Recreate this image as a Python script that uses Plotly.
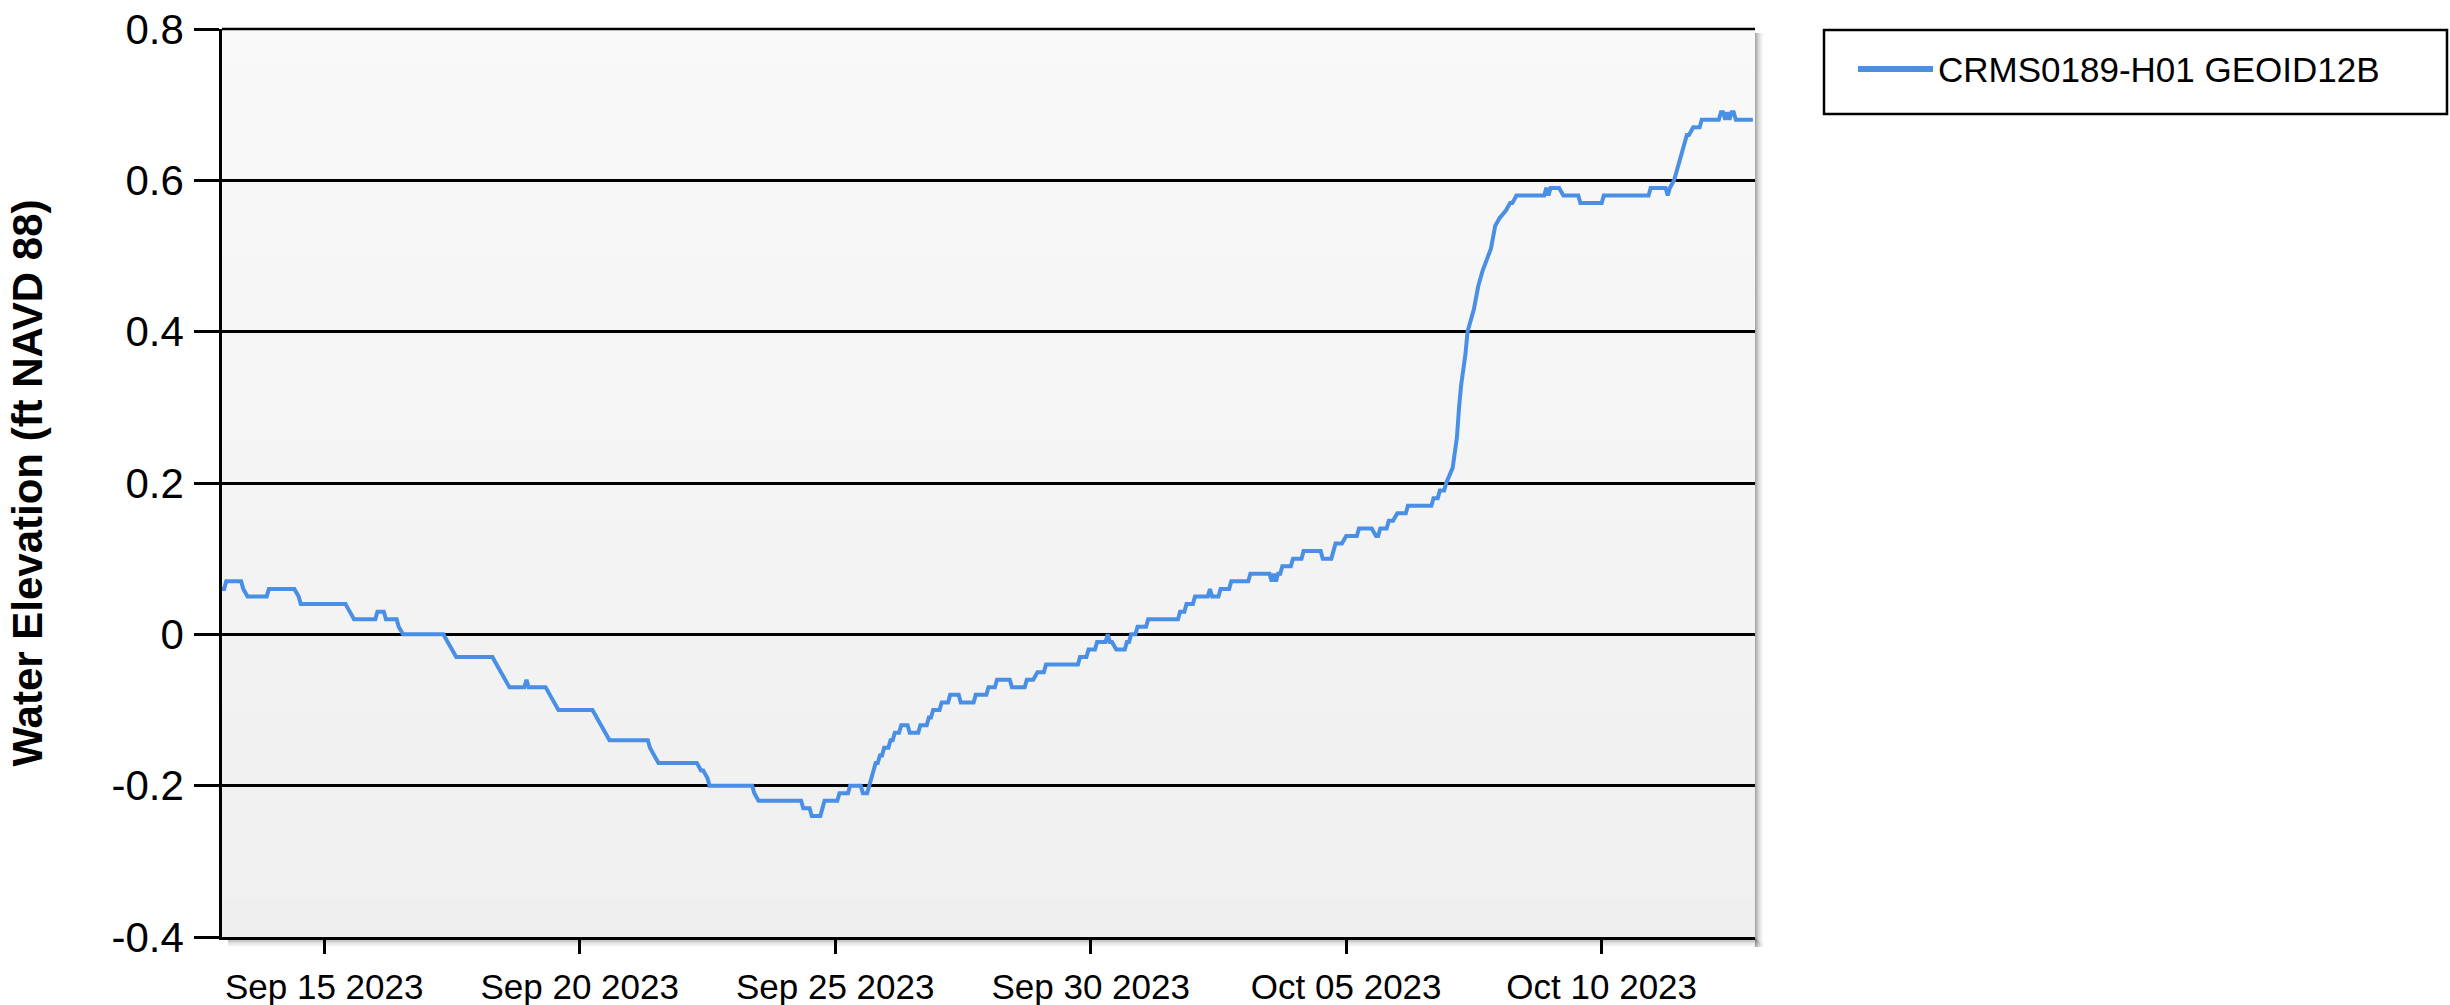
import plotly.graph_objects as go

# ---------------- data ----------------
series_name = "CRMS0189-H01 GEOID12B"

times = [
    "2023-09-13 00:00", "2023-09-13 01:00", "2023-09-13 02:00", "2023-09-13 09:00", "2023-09-13 10:00",
    "2023-09-13 12:00", "2023-09-13 21:00", "2023-09-13 22:00", "2023-09-14 10:00", "2023-09-14 12:00",
    "2023-09-14 13:00", "2023-09-15 10:00", "2023-09-15 12:00", "2023-09-15 14:00", "2023-09-16 00:00",
    "2023-09-16 01:00", "2023-09-16 04:00", "2023-09-16 05:00", "2023-09-16 10:00", "2023-09-16 11:00",
    "2023-09-16 13:00", "2023-09-17 08:00", "2023-09-17 10:00", "2023-09-17 12:00", "2023-09-17 14:00",
    "2023-09-18 07:00", "2023-09-18 09:00", "2023-09-18 11:00", "2023-09-18 13:00", "2023-09-18 15:00",
    "2023-09-18 22:00", "2023-09-18 23:00", "2023-09-19 00:00", "2023-09-19 08:00", "2023-09-19 10:00",
    "2023-09-19 12:00", "2023-09-19 14:00", "2023-09-20 06:00", "2023-09-20 08:00", "2023-09-20 10:00",
    "2023-09-20 12:00", "2023-09-20 14:00", "2023-09-21 08:00", "2023-09-21 09:00", "2023-09-21 11:00",
    "2023-09-21 13:00", "2023-09-22 07:00", "2023-09-22 09:00", "2023-09-22 10:00", "2023-09-22 12:00",
    "2023-09-22 13:00", "2023-09-23 09:00", "2023-09-23 10:00", "2023-09-23 12:00", "2023-09-24 08:00",
    "2023-09-24 09:00", "2023-09-24 12:00", "2023-09-24 13:00", "2023-09-24 17:00", "2023-09-24 18:00",
    "2023-09-24 19:00", "2023-09-25 01:00", "2023-09-25 02:00", "2023-09-25 06:00", "2023-09-25 07:00",
    "2023-09-25 12:00", "2023-09-25 13:00", "2023-09-25 15:00", "2023-09-25 16:00", "2023-09-25 17:00",
    "2023-09-25 18:00", "2023-09-25 19:00", "2023-09-25 20:00", "2023-09-25 21:00", "2023-09-25 22:00",
    "2023-09-25 23:00", "2023-09-26 01:00", "2023-09-26 02:00", "2023-09-26 03:00", "2023-09-26 04:00",
    "2023-09-26 06:00", "2023-09-26 07:00", "2023-09-26 10:00", "2023-09-26 11:00", "2023-09-26 15:00",
    "2023-09-26 16:00", "2023-09-26 19:00", "2023-09-26 20:00", "2023-09-26 21:00", "2023-09-26 22:00",
    "2023-09-27 01:00", "2023-09-27 02:00", "2023-09-27 05:00", "2023-09-27 06:00", "2023-09-27 10:00",
    "2023-09-27 11:00", "2023-09-27 17:00", "2023-09-27 18:00", "2023-09-27 23:00", "2023-09-28 00:00",
    "2023-09-28 03:00", "2023-09-28 04:00", "2023-09-28 10:00", "2023-09-28 11:00", "2023-09-28 17:00",
    "2023-09-28 18:00", "2023-09-28 21:00", "2023-09-28 23:00", "2023-09-29 02:00", "2023-09-29 03:00",
    "2023-09-29 18:00", "2023-09-29 19:00", "2023-09-29 22:00", "2023-09-29 23:00", "2023-09-30 02:00",
    "2023-09-30 03:00", "2023-09-30 07:00", "2023-09-30 08:00", "2023-09-30 09:00", "2023-09-30 10:00",
    "2023-09-30 12:00", "2023-09-30 16:00", "2023-09-30 17:00", "2023-09-30 18:00", "2023-09-30 19:00",
    "2023-09-30 21:00", "2023-09-30 22:00", "2023-10-01 02:00", "2023-10-01 03:00", "2023-10-01 17:00",
    "2023-10-01 18:00", "2023-10-01 20:00", "2023-10-01 21:00", "2023-10-02 00:00", "2023-10-02 01:00",
    "2023-10-02 07:00", "2023-10-02 08:00", "2023-10-02 09:00", "2023-10-02 12:00", "2023-10-02 13:00",
    "2023-10-02 17:00", "2023-10-02 18:00", "2023-10-03 02:00", "2023-10-03 03:00", "2023-10-03 12:00",
    "2023-10-03 13:00", "2023-10-03 14:00", "2023-10-03 15:00", "2023-10-03 16:00", "2023-10-03 17:00",
    "2023-10-03 18:00", "2023-10-03 22:00", "2023-10-03 23:00", "2023-10-04 03:00", "2023-10-04 04:00",
    "2023-10-04 12:00", "2023-10-04 13:00", "2023-10-04 17:00", "2023-10-04 18:00", "2023-10-04 19:00",
    "2023-10-04 22:00", "2023-10-05 00:00", "2023-10-05 05:00", "2023-10-05 06:00", "2023-10-05 12:00",
    "2023-10-05 14:00", "2023-10-05 15:00", "2023-10-05 16:00", "2023-10-05 19:00", "2023-10-05 20:00",
    "2023-10-05 22:00", "2023-10-06 00:00", "2023-10-06 04:00", "2023-10-06 05:00", "2023-10-06 16:00",
    "2023-10-06 17:00", "2023-10-06 19:00", "2023-10-06 20:00", "2023-10-06 22:00", "2023-10-06 23:00",
    "2023-10-07 02:00", "2023-10-07 04:00", "2023-10-07 05:00", "2023-10-07 06:00", "2023-10-07 08:00",
    "2023-10-07 09:00", "2023-10-07 12:00", "2023-10-07 14:00", "2023-10-07 16:00", "2023-10-07 20:00",
    "2023-10-07 22:00", "2023-10-08 00:00", "2023-10-08 03:00", "2023-10-08 05:00", "2023-10-08 06:00",
    "2023-10-08 08:00", "2023-10-08 21:00", "2023-10-08 22:00", "2023-10-08 23:00", "2023-10-09 00:00",
    "2023-10-09 04:00", "2023-10-09 06:00", "2023-10-09 13:00", "2023-10-09 14:00", "2023-10-10 00:00",
    "2023-10-10 01:00", "2023-10-10 22:00", "2023-10-10 23:00", "2023-10-11 06:00", "2023-10-11 07:00",
    "2023-10-11 08:00", "2023-10-11 10:00", "2023-10-11 13:00", "2023-10-11 15:00", "2023-10-11 16:00",
    "2023-10-11 17:00", "2023-10-11 19:00", "2023-10-11 22:00", "2023-10-11 23:00", "2023-10-12 07:00",
    "2023-10-12 08:00", "2023-10-12 09:00", "2023-10-12 10:00", "2023-10-12 11:00", "2023-10-12 12:00",
    "2023-10-12 13:00", "2023-10-12 14:00", "2023-10-12 15:00", "2023-10-12 23:00",
]

elevation = [
    0.06, 0.06, 0.07, 0.07, 0.06,
    0.05, 0.05, 0.06, 0.06, 0.05,
    0.04, 0.04, 0.03, 0.02, 0.02,
    0.03, 0.03, 0.02, 0.02, 0.01,
    0.00, 0.00, -0.01, -0.02, -0.03,
    -0.03, -0.04, -0.05, -0.06, -0.07,
    -0.07, -0.06, -0.07, -0.07, -0.08,
    -0.09, -0.10, -0.10, -0.11, -0.12,
    -0.13, -0.14, -0.14, -0.15, -0.16,
    -0.17, -0.17, -0.18, -0.18, -0.19,
    -0.20, -0.20, -0.21, -0.22, -0.22,
    -0.23, -0.23, -0.24, -0.24, -0.23,
    -0.22, -0.22, -0.21, -0.21, -0.20,
    -0.20, -0.21, -0.21, -0.20, -0.19,
    -0.18, -0.17, -0.17, -0.16, -0.16,
    -0.15, -0.15, -0.14, -0.14, -0.13,
    -0.13, -0.12, -0.12, -0.13, -0.13,
    -0.12, -0.12, -0.11, -0.11, -0.10,
    -0.10, -0.09, -0.09, -0.08, -0.08,
    -0.09, -0.09, -0.08, -0.08, -0.07,
    -0.07, -0.06, -0.06, -0.07, -0.07,
    -0.06, -0.06, -0.05, -0.05, -0.04,
    -0.04, -0.03, -0.03, -0.02, -0.02,
    -0.01, -0.01, 0.00, -0.01, -0.01,
    -0.02, -0.02, -0.01, -0.01, 0.00,
    0.00, 0.01, 0.01, 0.02, 0.02,
    0.03, 0.03, 0.04, 0.04, 0.05,
    0.05, 0.06, 0.05, 0.05, 0.06,
    0.06, 0.07, 0.07, 0.08, 0.08,
    0.07, 0.08, 0.07, 0.08, 0.08,
    0.09, 0.09, 0.10, 0.10, 0.11,
    0.11, 0.10, 0.10, 0.11, 0.12,
    0.12, 0.13, 0.13, 0.14, 0.14,
    0.13, 0.13, 0.14, 0.14, 0.15,
    0.15, 0.16, 0.16, 0.17, 0.17,
    0.18, 0.18, 0.19, 0.19, 0.20,
    0.22, 0.26, 0.30, 0.33, 0.37,
    0.40, 0.43, 0.46, 0.48, 0.51,
    0.54, 0.55, 0.56, 0.57, 0.57,
    0.58, 0.58, 0.59, 0.58, 0.59,
    0.59, 0.58, 0.58, 0.57, 0.57,
    0.58, 0.58, 0.59, 0.59, 0.58,
    0.59, 0.60, 0.63, 0.65, 0.66,
    0.66, 0.67, 0.67, 0.68, 0.68,
    0.69, 0.69, 0.68, 0.69, 0.68,
    0.69, 0.69, 0.68, 0.68,
]

x_range = ["2023-09-13 00:00", "2023-10-13 00:00"]
x_tick_dates = ["2023-09-15", "2023-09-20", "2023-09-25", "2023-09-30", "2023-10-05", "2023-10-10"]
x_tick_labels = ["Sep 15 2023", "Sep 20 2023", "Sep 25 2023", "Sep 30 2023", "Oct 05 2023", "Oct 10 2023"]
y_tick_values = [0.8, 0.6, 0.4, 0.2, 0.0, -0.2, -0.4]
y_tick_labels = ["0.8", "0.6", "0.4", "0.2", "0", "-0.2", "-0.4"]
y_range = [-0.4, 0.8]
y_title = "Water Elevation (ft NAVD 88)"

# ---------------- figure ----------------
FONT = "Arial, 'Liberation Sans', sans-serif"
LINE_COLOR = "#4a8fe6"
W, H = 2450, 1005
ML, MR, MT, MB = 222, 695, 29, 68
pw, ph = W - ML - MR, H - MT - MB

def px_x(px):
    return (px - ML) / pw

def px_y(py):
    return 1 - (py - MT) / ph

fig = go.Figure()
fig.add_trace(go.Scatter(
    x=times, y=elevation, mode="lines", name=series_name,
    line=dict(color=LINE_COLOR, width=4),
))

shapes = []
# vertical gradient of the plot background
nb = 24
top_c, bot_c = 249, 239
for i in range(nb):
    c = round(top_c + (bot_c - top_c) * (i + 0.5) / nb)
    shapes.append(dict(type="rect", xref="paper", yref="paper",
                       x0=0, x1=1, y0=1 - (i + 1) / nb, y1=1 - i / nb,
                       fillcolor=f"rgb({c},{c},{c})", line=dict(width=0), layer="below"))
# drop shadow at right and bottom of plot area
for k, a in enumerate([0.45, 0.3, 0.18, 0.1, 0.05]):
    d0, d1 = k * 1.6, (k + 1) * 1.6
    shapes.append(dict(type="rect", xref="paper", yref="paper",
                       x0=1 + d0 / pw, x1=1 + d1 / pw, y0=-10 / ph, y1=1 - 4 / ph,
                       fillcolor=f"rgba(60,60,60,{a})", line=dict(width=0), layer="below"))
    shapes.append(dict(type="rect", xref="paper", yref="paper",
                       x0=6 / pw, x1=1 + d1 / pw, y0=-d1 / ph - 1.5 / ph, y1=-d0 / ph - 1.5 / ph,
                       fillcolor=f"rgba(60,60,60,{a})", line=dict(width=0), layer="below"))
# legend frame and thicker legend key
shapes.append(dict(type="rect", xref="paper", yref="paper",
                   x0=px_x(1824), x1=px_x(2447), y0=px_y(114), y1=px_y(30),
                   line=dict(color="black", width=2.5), fillcolor="rgba(0,0,0,0)"))
shapes.append(dict(type="line", xref="paper", yref="paper",
                   x0=px_x(1858), x1=px_x(1933), y0=px_y(69), y1=px_y(69),
                   line=dict(color=LINE_COLOR, width=6)))
# top border line of plot area
shapes.append(dict(type="line", xref="paper", yref="paper", x0=0, x1=1, y0=1, y1=1,
                   line=dict(color="black", width=2.5)))

fig.update_layout(
    width=W, height=H,
    margin=dict(l=ML, r=MR, t=MT, b=MB, autoexpand=False),
    paper_bgcolor="white",
    plot_bgcolor="rgb(244,244,244)",
    font=dict(family=FONT, color="black"),
    shapes=shapes,
    showlegend=True,
    legend=dict(
        x=px_x(1858), xanchor="left",
        y=px_y(69), yanchor="middle",
        font=dict(size=35, family=FONT, color="black"),
        bgcolor="rgba(0,0,0,0)", borderwidth=0,
        itemwidth=70,
    ),
    xaxis=dict(
        type="date", range=x_range,
        tickmode="array", tickvals=x_tick_dates, ticktext=x_tick_labels,
        ticks="outside", ticklen=14, tickwidth=2.5, tickcolor="black",
        tickfont=dict(size=35, family=FONT, color="black"),
        ticklabelstandoff=3,
        showgrid=False, zeroline=False,
        showline=True, linecolor="black", linewidth=3,
    ),
    yaxis=dict(
        range=y_range,
        tickmode="array", tickvals=y_tick_values, ticktext=y_tick_labels,
        ticks="outside", ticklen=25, tickwidth=2.5, tickcolor="black",
        tickfont=dict(size=42, family=FONT, color="black"),
        ticklabelstandoff=2,
        showgrid=True, gridcolor="black", gridwidth=2.5,
        zeroline=False,
        showline=True, linecolor="black", linewidth=2.5,
        title=dict(text=y_title, font=dict(size=42, family=FONT, color="black", weight="bold"),
                   standoff=56),
    ),
)

fig.write_html("out.html",
               config={"displayModeBar": False},
               post_script="document.body.style.margin='0';document.body.style.overflow='hidden';")
